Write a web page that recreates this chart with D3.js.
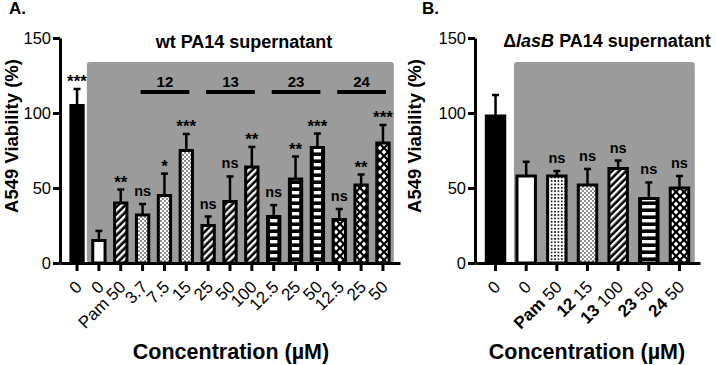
<!DOCTYPE html>
<html>
<head>
<meta charset="utf-8">
<style>
  body { margin: 0; background: #fff; }
  text { font-family: "Liberation Sans", Arial, sans-serif; fill: #000; }
</style>
</head>
<body>
<script src="https://d3js.org/d3.v7.min.js"></script>
<script>
// ---- panel A data (wt PA14 supernatant)
var prefixA = ["", "", "Pam", "", "", "", "", "", "", "", "", "", "", "", ""];
var doseA   = ["0", "0", "50", "3.7", "7.5", "15", "25", "50", "100", "12.5", "25", "50", "12.5", "25", "50"];
var meanA   = [105, 15, 40, 32, 45, 75, 25, 41, 64, 31, 56, 77, 29, 52, 80];
var errA    = [11, 6.4, 9, 7.3, 14.6, 11, 6, 16.7, 13.4, 7.6, 15, 9.3, 7, 7, 12];
var sigA    = ["***", "", "**", "ns", "*", "***", "ns", "ns", "**", "ns", "**", "***", "ns", "**", "***"];
var patA    = ["black", "white", "diag", "dots", "dots", "dots", "diag", "diag", "diag",
               "ladder", "ladder", "ladder", "diamond", "diamond", "diamond"];
var groupLabels = ["12", "13", "23", "24"];
var groupStart  = [3, 6, 9, 12];
var groupEnd    = [5, 8, 11, 14];

// ---- panel B data (lasB PA14 supernatant)
var prefixB = ["", "", "Pam", "12", "13", "23", "24"];
var doseB   = ["0", "0", "50", "15", "100", "50", "50"];
var meanB   = [98, 58, 58, 52, 63, 43, 50];
var errB    = [14, 9.5, 3.3, 10.7, 5.3, 10.7, 8];
var sigB    = ["", "", "ns", "ns", "ns", "ns", "ns"];
var patB    = ["black", "white", "speckle", "dots", "diag", "ladder", "diamond"];

var yTicks = [0, 50, 100, 150];

var svg = d3.select("body").append("svg")
    .attr("width", 716)
    .attr("height", 365);

// patterns
var defs = svg.append("defs");

var p = defs.append("pattern").attr("id", "diag").attr("patternUnits", "userSpaceOnUse")
    .attr("width", 5).attr("height", 5).attr("patternTransform", "rotate(45)");
p.append("rect").attr("width", 5).attr("height", 5).attr("fill", "#000");
p.append("rect").attr("width", 2.4).attr("height", 5).attr("fill", "#fff");

p = defs.append("pattern").attr("id", "dots").attr("patternUnits", "userSpaceOnUse")
    .attr("width", 4).attr("height", 4);
p.append("rect").attr("width", 4).attr("height", 4).attr("fill", "#fff");
p.append("circle").attr("cx", 1).attr("cy", 1).attr("r", 0.8).attr("fill", "#000");
p.append("circle").attr("cx", 3).attr("cy", 3).attr("r", 0.8).attr("fill", "#000");

p = defs.append("pattern").attr("id", "speckle").attr("patternUnits", "userSpaceOnUse")
    .attr("width", 3.4).attr("height", 3.4);
p.append("rect").attr("width", 3.4).attr("height", 3.4).attr("fill", "#fff");
p.append("rect").attr("width", 1.6).attr("height", 1.6).attr("fill", "#000");

p = defs.append("pattern").attr("id", "ladder").attr("patternUnits", "userSpaceOnUse")
    .attr("width", 10).attr("height", 7);
p.append("rect").attr("width", 10).attr("height", 7).attr("fill", "#000");
p.append("rect").attr("y", 2).attr("width", 10).attr("height", 3.4).attr("fill", "#fff");

p = defs.append("pattern").attr("id", "diamond").attr("patternUnits", "userSpaceOnUse")
    .attr("width", 8).attr("height", 8);
p.append("rect").attr("width", 8).attr("height", 8).attr("fill", "#000");
[[4, 4], [0, 0], [8, 0], [0, 8], [8, 8]].forEach(function(c) {
  p.append("path")
    .attr("d", "M" + c[0] + "," + (c[1] - 2.4) + "L" + (c[0] + 2.4) + "," + c[1] +
               "L" + c[0] + "," + (c[1] + 2.4) + "L" + (c[0] - 2.4) + "," + c[1] + "Z")
    .attr("fill", "#fff");
});

function fillFor(name) {
  if (name == "black") return "#000";
  if (name == "white") return "#fff";
  return "url(#" + name + ")";
}

function drawPanel(o) {
  var g = svg.append("g");
  var y = d3.scaleLinear().domain([0, 150]).range([263, 38]);
  var idx = d3.range(o.mean.length);
  var x = d3.scaleBand().domain(idx).range([o.x0, o.x1])
      .paddingInner(0).paddingOuter(o.pad);
  var step = x.step();
  var cx = function(i) { return x(i) + x.bandwidth() / 2; };
  var bw = step * 0.7 - 3;

  // grey treatment area
  g.append("rect")
    .attr("x", cx(1) - step * o.greyLeft)
    .attr("y", 62)
    .attr("width", cx(idx.length - 1) + step * 0.5 - (cx(1) - step * o.greyLeft))
    .attr("height", y(0) - 62)
    .attr("rx", 3)
    .attr("fill", "#9b9b9b");

  // bars
  g.selectAll(".bar").data(idx).enter().append("rect")
    .attr("x", function(i) { return cx(i) - bw / 2; })
    .attr("y", function(i) { return y(o.mean[i]); })
    .attr("width", bw)
    .attr("height", function(i) { return y(0) - y(o.mean[i]); })
    .attr("fill", function(i) { return fillFor(o.pat[i]); })
    .attr("stroke", "#000")
    .attr("stroke-width", 3);

  // ladder bars have black side rails inside
  g.selectAll(".rail").data(idx.filter(function(i) { return o.pat[i] == "ladder"; }))
    .enter().append("rect")
    .attr("x", function(i) { return cx(i) - bw / 2 + 1.5; })
    .attr("y", function(i) { return y(o.mean[i]); })
    .attr("width", bw - 3)
    .attr("height", function(i) { return y(0) - y(o.mean[i]); })
    .attr("fill", "none")
    .attr("stroke", "#000")
    .attr("stroke-width", 2);

  // error bars
  g.selectAll(".err").data(idx).enter().append("line")
    .attr("x1", cx).attr("x2", cx)
    .attr("y1", function(i) { return y(o.mean[i]); })
    .attr("y2", function(i) { return y(o.mean[i] + o.err[i]); })
    .attr("stroke", "#000").attr("stroke-width", 2.5);
  g.selectAll(".cap").data(idx).enter().append("line")
    .attr("x1", function(i) { return cx(i) - 3.5; })
    .attr("x2", function(i) { return cx(i) + 3.5; })
    .attr("y1", function(i) { return y(o.mean[i] + o.err[i]); })
    .attr("y2", function(i) { return y(o.mean[i] + o.err[i]); })
    .attr("stroke", "#000").attr("stroke-width", 2.5);

  // significance marks
  g.selectAll(".sig").data(idx).enter().append("text")
    .attr("x", cx)
    .attr("y", function(i) {
      var cap = y(o.mean[i] + o.err[i]);
      return o.sig[i] == "ns" ? cap - 8 : cap - 2;
    })
    .attr("text-anchor", "middle")
    .attr("font-weight", "bold")
    .attr("font-size", function(i) { return o.sig[i] == "ns" ? 14.5 : 17; })
    .text(function(i) { return o.sig[i]; });

  // y axis
  var ya = g.append("g").attr("transform", "translate(" + o.x0 + ",0)")
    .call(d3.axisLeft(y).tickValues(yTicks).tickSize(7).tickSizeOuter(0).tickPadding(2));
  ya.select(".domain").attr("stroke-width", 3);
  ya.selectAll(".tick line").attr("stroke-width", 3);
  ya.selectAll(".tick text").attr("font-size", 16.5)
    .attr("font-family", "Liberation Sans, Arial, sans-serif").attr("fill", "#000");

  // x axis
  var xa = g.append("g").attr("transform", "translate(0," + y(0) + ")")
    .call(d3.axisBottom(x).tickSize(8).tickSizeOuter(0).tickFormat(""));
  xa.select(".domain").attr("stroke-width", 3);
  xa.selectAll(".tick line").attr("stroke-width", 3);

  var lab = g.selectAll(".xl").data(idx).enter().append("text")
    .attr("text-anchor", "end")
    .attr("font-size", 17)
    .attr("transform", function(i) {
      return "translate(" + (cx(i) + 6) + "," + 288 + ") rotate(-45)";
    });
  lab.append("tspan")
    .attr("font-weight", o.prefixBold ? "bold" : "normal")
    .text(function(i) { return o.prefix[i] ? o.prefix[i] + " " : ""; });
  lab.append("tspan").text(function(i) { return o.dose[i]; });

  // y label
  g.append("text")
    .attr("transform", "translate(" + o.ylabX + ",136) rotate(-90)")
    .attr("text-anchor", "middle")
    .attr("font-size", 18.5).attr("font-weight", "bold")
    .text("A549 Viability (%)");

  // x label
  g.append("text")
    .attr("x", o.xlabX).attr("y", 359)
    .attr("text-anchor", "middle")
    .attr("font-size", 21.5).attr("font-weight", "bold")
    .text("Concentration (\u00b5M)");

  return { x: cx, g: g };
}

var A = drawPanel({
  mean: meanA, err: errA, sig: sigA, pat: patA, prefix: prefixA, dose: doseA,
  prefixBold: false, x0: 60, x1: 400, pad: 0.28, greyLeft: 0.55,
  ylabX: 18, xlabX: 231
});

var B = drawPanel({
  mean: meanB, err: errB, sig: sigB, pat: patB, prefix: prefixB, dose: doseB,
  prefixBold: true, x0: 475, x1: 700, pad: 0.17, greyLeft: 0.4,
  ylabX: 421, xlabX: 587
});

// compound group lines in panel A
groupLabels.forEach(function(lbl, k) {
  var a = A.x(groupStart[k]) - 2, b = A.x(groupEnd[k]) + 3;
  svg.append("line").attr("x1", a).attr("x2", b).attr("y1", 92).attr("y2", 92)
    .attr("stroke", "#000").attr("stroke-width", 4);
  svg.append("text").attr("x", (a + b) / 2).attr("y", 87)
    .attr("text-anchor", "middle").attr("font-size", 15).attr("font-weight", "bold")
    .text(lbl);
});

// titles
svg.append("text").attr("x", 244).attr("y", 48).attr("text-anchor", "middle")
  .attr("font-size", 18).attr("font-weight", "bold").text("wt PA14 supernatant");

var tB = svg.append("text").attr("x", 607).attr("y", 47).attr("text-anchor", "middle")
  .attr("font-size", 18).attr("font-weight", "bold");
tB.append("tspan").text("\u0394");
tB.append("tspan").attr("font-style", "italic").text("lasB");
tB.append("tspan").text(" PA14 supernatant");

svg.append("text").attr("x", 9).attr("y", 14).attr("font-size", 17).attr("font-weight", "bold").text("A.");
svg.append("text").attr("x", 422).attr("y", 14).attr("font-size", 17).attr("font-weight", "bold").text("B.");
</script>
</body>
</html>
